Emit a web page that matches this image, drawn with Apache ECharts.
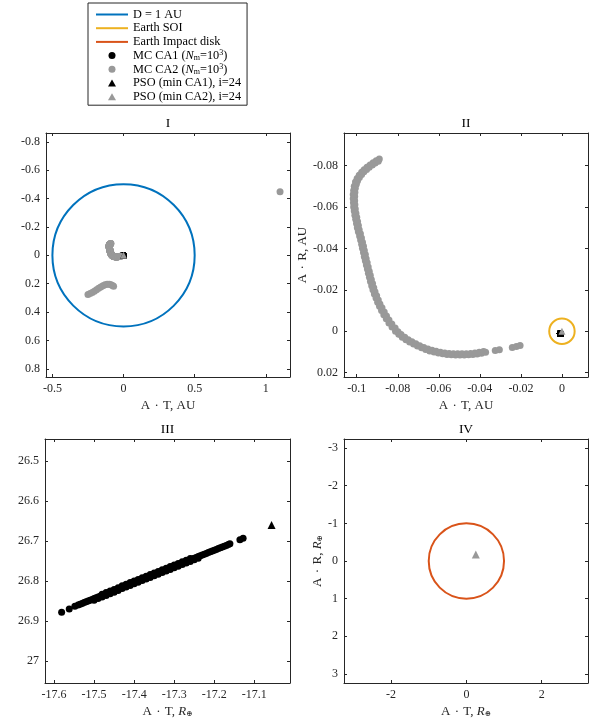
<!DOCTYPE html>
<html>
<head>
<meta charset="utf-8">
<script src="https://cdn.jsdelivr.net/npm/echarts@6/dist/echarts.min.js"></script>
<style>
  html, body { margin: 0; padding: 0; background: #fff; }
  #chart { width: 591px; height: 721px; }
</style>
</head>
<body>
<div id="chart"></div>
<script>
// Earth radius expressed in astronomical units
const R_EARTH_AU = 4.2587e-5;

// MC CA2 close-approach samples, B-plane coordinates (A·T, A·R) in AU
const mcCA2_AU = [
  // outer edge of the main arc
  [-0.0890,-0.0831],[-0.0905,-0.0823],[-0.0920,-0.0813],[-0.0935,-0.0803],[-0.0950,-0.0792],
  [-0.0964,-0.0780],[-0.0976,-0.0768],[-0.0988,-0.0753],[-0.0998,-0.0737],[-0.1006,-0.0720],
  [-0.1012,-0.0700],[-0.1015,-0.0680],[-0.1017,-0.0660],[-0.1017,-0.0640],[-0.1016,-0.0620],
  [-0.1015,-0.0600],[-0.1012,-0.0580],[-0.1009,-0.0560],[-0.1005,-0.0540],[-0.1001,-0.0520],
  [-0.0997,-0.0500],[-0.0992,-0.0480],[-0.0986,-0.0460],[-0.0981,-0.0440],[-0.0976,-0.0420],
  [-0.0972,-0.0400],[-0.0967,-0.0380],[-0.0963,-0.0360],[-0.0958,-0.0340],[-0.0953,-0.0320],
  [-0.0948,-0.0300],[-0.0943,-0.0280],[-0.0938,-0.0260],[-0.0933,-0.0240],[-0.0927,-0.0220],
  [-0.0921,-0.0200],[-0.0914,-0.0180],[-0.0906,-0.0160],[-0.0898,-0.0140],[-0.0889,-0.0120],
  [-0.0879,-0.0100],[-0.0868,-0.0080],[-0.0856,-0.0060],[-0.0843,-0.0040],[-0.0828,-0.0020],
  [-0.0811,0.0000],[-0.0795,0.0015],[-0.0778,0.0029],[-0.0760,0.0041],[-0.0742,0.0052],
  [-0.0723,0.0062],[-0.0704,0.0071],[-0.0684,0.0080],[-0.0664,0.0088],[-0.0644,0.0095],
  [-0.0623,0.0100],[-0.0602,0.0105],[-0.0581,0.0109],[-0.0560,0.0112],[-0.0539,0.0114],
  [-0.0518,0.0115],[-0.0497,0.0115],[-0.0476,0.0115],[-0.0455,0.0114],[-0.0434,0.0112],
  [-0.0413,0.0110],[-0.0392,0.0106],[-0.0372,0.0102],
  // inner edge of the main arc
  [-0.0895,-0.0821],[-0.0910,-0.0812],[-0.0924,-0.0802],[-0.0939,-0.0792],[-0.0952,-0.0781],
  [-0.0965,-0.0770],[-0.0976,-0.0757],[-0.0987,-0.0742],[-0.0996,-0.0727],[-0.1002,-0.0709],
  [-0.1007,-0.0690],[-0.1009,-0.0670],[-0.1010,-0.0650],[-0.1010,-0.0630],[-0.1009,-0.0610],
  [-0.1007,-0.0590],[-0.1004,-0.0570],[-0.1000,-0.0550],[-0.0996,-0.0530],[-0.0992,-0.0510],
  [-0.0988,-0.0490],[-0.0982,-0.0470],[-0.0977,-0.0450],[-0.0972,-0.0430],[-0.0967,-0.0410],
  [-0.0963,-0.0390],[-0.0958,-0.0370],[-0.0954,-0.0350],[-0.0949,-0.0330],[-0.0944,-0.0310],
  [-0.0939,-0.0290],[-0.0934,-0.0270],[-0.0929,-0.0250],[-0.0923,-0.0230],[-0.0917,-0.0210],
  [-0.0911,-0.0191],[-0.0903,-0.0171],[-0.0895,-0.0151],[-0.0887,-0.0132],[-0.0877,-0.0113],
  [-0.0866,-0.0093],[-0.0855,-0.0074],[-0.0843,-0.0054],[-0.0829,-0.0035],[-0.0813,-0.0016],
  [-0.0799,0.0002],[-0.0784,0.0016],[-0.0766,0.0029],[-0.0749,0.0041],[-0.0731,0.0051],
  [-0.0712,0.0061],[-0.0693,0.0070],[-0.0673,0.0078],[-0.0653,0.0086],[-0.0633,0.0092],
  [-0.0613,0.0097],[-0.0592,0.0101],[-0.0571,0.0105],[-0.0550,0.0107],[-0.0529,0.0109],
  [-0.0508,0.0109],[-0.0487,0.0109],[-0.0466,0.0109],[-0.0445,0.0107],[-0.0424,0.0105],
  [-0.0403,0.0102],[-0.0382,0.0098],
  // scattered tail toward the Earth
  [-0.0325,0.0093],[-0.0305,0.0090],[-0.0242,0.0079],[-0.0222,0.0074],[-0.0204,0.0069],
  // second branch
  [-0.250,0.277],[-0.235,0.270],[-0.220,0.262],[-0.205,0.253],[-0.190,0.243],
  [-0.175,0.233],[-0.160,0.224],[-0.145,0.215],[-0.130,0.208],[-0.115,0.204],
  [-0.100,0.204],[-0.088,0.208],[-0.078,0.213],[-0.070,0.218],
  // far outlier
  [1.100,-0.447]
];

// MC CA1 close-approach samples, B-plane coordinates in Earth radii
const mcCA1_RE = [
  [-17.581,26.878],[-17.562,26.870],
  [-17.548,26.863],[-17.540,26.860],[-17.530,26.856],[-17.520,26.852],[-17.510,26.848],
  [-17.500,26.844],[-17.490,26.840],[-17.480,26.836],[-17.470,26.832],[-17.460,26.828],
  [-17.450,26.824],[-17.440,26.820],[-17.430,26.815],[-17.420,26.811],[-17.410,26.807],
  [-17.400,26.803],[-17.390,26.799],[-17.380,26.795],[-17.370,26.791],[-17.360,26.787],
  [-17.350,26.783],[-17.340,26.779],[-17.330,26.775],[-17.320,26.771],[-17.310,26.767],
  [-17.300,26.763],[-17.290,26.759],[-17.280,26.755],[-17.270,26.751],[-17.260,26.747],
  [-17.250,26.743],[-17.240,26.739],[-17.230,26.735],[-17.220,26.731],[-17.210,26.727],
  [-17.200,26.723],[-17.190,26.719],[-17.180,26.715],[-17.170,26.711],[-17.161,26.707],
  [-17.535,26.858],[-17.525,26.854],[-17.515,26.850],[-17.505,26.846],[-17.495,26.842],
  [-17.485,26.838],[-17.475,26.834],[-17.465,26.830],[-17.455,26.826],[-17.445,26.822],
  [-17.435,26.818],[-17.425,26.813],[-17.415,26.809],[-17.405,26.805],[-17.395,26.801],
  [-17.385,26.797],[-17.375,26.793],[-17.365,26.789],[-17.355,26.785],[-17.345,26.781],
  [-17.335,26.777],[-17.325,26.773],[-17.315,26.769],[-17.305,26.765],[-17.295,26.761],
  [-17.285,26.757],[-17.275,26.753],[-17.265,26.749],[-17.255,26.745],[-17.245,26.741],
  [-17.235,26.737],[-17.225,26.733],[-17.215,26.729],[-17.205,26.725],[-17.195,26.721],
  [-17.185,26.717],[-17.175,26.713],[-17.165,26.709],
  [-17.500,26.848],[-17.490,26.844],[-17.480,26.840],[-17.470,26.836],[-17.460,26.832],
  [-17.450,26.828],[-17.440,26.824],[-17.430,26.819],[-17.420,26.815],[-17.410,26.811],
  [-17.400,26.807],[-17.390,26.803],[-17.380,26.799],[-17.370,26.795],[-17.360,26.791],
  [-17.350,26.787],[-17.340,26.783],[-17.330,26.779],[-17.320,26.775],[-17.310,26.771],
  [-17.300,26.767],[-17.290,26.763],[-17.280,26.759],[-17.270,26.755],[-17.260,26.751],
  [-17.250,26.747],[-17.240,26.743],
  [-17.480,26.833],[-17.470,26.829],[-17.460,26.825],[-17.450,26.821],[-17.440,26.817],
  [-17.430,26.812],[-17.420,26.808],[-17.410,26.804],[-17.400,26.800],[-17.390,26.796],
  [-17.380,26.792],[-17.370,26.788],[-17.360,26.784],[-17.350,26.780],[-17.340,26.776],
  [-17.330,26.772],[-17.320,26.768],[-17.310,26.764],[-17.300,26.760],[-17.290,26.756],
  [-17.280,26.752],[-17.270,26.748],[-17.260,26.744],
  [-17.136,26.697],[-17.128,26.693]
];

// PSO optima, Earth radii
const psoCA1_RE = [[-17.057, 26.660]];
const psoCA2_RE = [[0.25, -0.17]];

// Reference circles: [centre T, centre R, radius]
const circleD_AU = [[0, 0, 0.5]];
const earthSOI_AU = [[0, 0, 0.0062]];
const impactDisk_RE = [[0, 0, 1]];

// Tick positions for each panel
const ticksIX = [-0.5, 0, 0.5, 1];
const ticksIY = [-0.8, -0.6, -0.4, -0.2, 0, 0.2, 0.4, 0.6, 0.8];
const ticksIIX = [-0.1, -0.08, -0.06, -0.04, -0.02, 0];
const ticksIIY = [-0.08, -0.06, -0.04, -0.02, 0, 0.02];
const ticksIIIX = [-17.6, -17.5, -17.4, -17.3, -17.2, -17.1];
const ticksIIIY = [26.5, 26.6, 26.7, 26.8, 26.9, 27];
const ticksIVX = [-2, 0, 2];
const ticksIVY = [-3, -2, -1, 0, 1, 2, 3];

const toAU = pts => pts.map(p => [p[0] * R_EARTH_AU, p[1] * R_EARTH_AU]);

const FONT = 'Liberation Serif';
const INK = '#262626';
const BLUE = '#0072BD', GOLD = '#EDB120', RED = '#D95319';
const GREY = '#999999', BLACK = '#000000';
const DOT = '\u2004\u00b7\u2004';

const fmt = v => String(Number(v.toFixed(4)));
const richMath = {
  it: { fontFamily: FONT, fontStyle: 'italic', fontSize: 13, color: INK },
  sub: { fontFamily: 'DejaVu Serif', fontSize: 7.5, color: INK, verticalAlign: 'bottom', padding: [5, 0, 0, 0] }
};

const grids = [
  { left: 46, top: 133, width: 244, height: 244 },
  { left: 344, top: 133, width: 244, height: 244 },
  { left: 45, top: 439, width: 245, height: 244 },
  { left: 344, top: 439, width: 244, height: 244 }
];

function axisPair(dim, g, min, max, ticks, opts) {
  const base = {
    type: 'value', gridIndex: g, min: min, max: max,
    inverse: dim === 'y',
    axisLine: { show: true, onZero: false, lineStyle: { color: INK, width: 1 } },
    axisTick: { show: true, inside: true, length: 3, customValues: ticks, lineStyle: { color: INK } },
    splitLine: { show: false },
    axisPointer: { show: false }
  };
  const main = Object.assign({}, base, {
    position: dim === 'x' ? 'bottom' : 'left',
    axisLabel: { show: true, customValues: ticks, formatter: fmt, fontFamily: FONT, fontSize: 12, color: INK, margin: 6 },
    name: opts.name || '', nameLocation: 'middle', nameGap: opts.gap || 20,
    nameTextStyle: { fontFamily: FONT, fontSize: 13, color: INK, rich: richMath }
  });
  const twin = Object.assign({}, base, {
    position: dim === 'x' ? 'top' : 'right',
    axisLabel: { show: false },
    name: opts.title || '', nameLocation: 'middle', nameGap: 3,
    nameTextStyle: { fontFamily: FONT, fontSize: 13.5, color: '#000' }
  });
  return [main, twin];
}

const xAxes = [].concat(
  axisPair('x', 0, -0.545, 1.17, ticksIX, { name: 'A' + DOT + 'T, AU', gap: 22, title: 'I' }),
  axisPair('x', 1, -0.1062, 0.0127, ticksIIX, { name: 'A' + DOT + 'T, AU', gap: 22, title: 'II' }),
  axisPair('x', 2, -17.6225, -17.011, ticksIIIX, { name: 'A' + DOT + 'T, {it|R}{sub|⊕}', gap: 22, title: 'III' }),
  axisPair('x', 3, -3.25, 3.23, ticksIVX, { name: 'A' + DOT + 'T, {it|R}{sub|⊕}', gap: 22, title: 'IV' })
);
const yAxes = [].concat(
  axisPair('y', 0, -0.862, 0.858, ticksIY, {}),
  axisPair('y', 1, -0.0957, 0.0221, ticksIIY, { name: 'A' + DOT + 'R, AU', gap: 35 }),
  axisPair('y', 2, 26.445, 27.055, ticksIIIY, {}),
  axisPair('y', 3, -3.24, 3.24, ticksIVY, { name: 'A' + DOT + 'R, {it|R}{sub|⊕}', gap: 20 })
);

function circleSeries(name, g, data, color) {
  return {
    type: 'custom', name: name, xAxisIndex: 2 * g, yAxisIndex: 2 * g,
    data: data, encode: { x: 0, y: 1 }, clip: true, silent: true,
    itemStyle: { color: color },
    renderItem: function (params, api) {
      const c = api.coord([api.value(0), api.value(1)]);
      const r = api.size([api.value(2), 0])[0];
      return {
        type: 'circle',
        shape: { cx: c[0], cy: c[1], r: r },
        style: { fill: 'none', stroke: color, lineWidth: 2 }
      };
    }
  };
}

function scatter(name, g, data, color, symbol, size) {
  return {
    type: 'scatter', name: name, xAxisIndex: 2 * g, yAxisIndex: 2 * g,
    data: data, symbol: symbol, symbolSize: size, clip: true, silent: true,
    itemStyle: { color: color, opacity: 1 }
  };
}

const N_MC1 = 'MC CA1', N_MC2 = 'MC CA2';
const N_PSO1 = 'PSO (min CA1), i=24', N_PSO2 = 'PSO (min CA2), i=24';

const series = [
  // Panel I
  circleSeries('D = 1 AU', 0, circleD_AU, BLUE),
  scatter(N_MC1, 0, toAU(mcCA1_RE), BLACK, 'circle', 7),
  scatter(N_MC2, 0, mcCA2_AU, GREY, 'circle', 7),
  scatter(N_PSO1, 0, toAU(psoCA1_RE), BLACK, 'triangle', 7),
  scatter(N_PSO2, 0, toAU(psoCA2_RE), GREY, 'triangle', 7),
  // Panel II
  circleSeries('Earth SOI', 1, earthSOI_AU, GOLD),
  scatter(N_MC1, 1, toAU(mcCA1_RE), BLACK, 'circle', 7),
  scatter(N_MC2, 1, mcCA2_AU, GREY, 'circle', 7),
  scatter(N_PSO1, 1, toAU(psoCA1_RE), BLACK, 'triangle', 7),
  scatter(N_PSO2, 1, toAU(psoCA2_RE), GREY, 'triangle', 7),
  // Panel III
  scatter(N_MC1, 2, mcCA1_RE, BLACK, 'circle', 7),
  scatter(N_PSO1, 2, psoCA1_RE, BLACK, 'triangle', 8),
  // Panel IV
  circleSeries('Earth Impact disk', 3, impactDisk_RE, RED),
  scatter(N_PSO2, 3, psoCA2_RE, GREY, 'triangle', 8)
];

const lineIcon = 'path://M0,0H32V2H0Z';
const triIcon = 'path://M4,0L8,7L0,7Z';
const legendText = {
  'D = 1 AU': 'D = 1 AU',
  'Earth SOI': 'Earth SOI',
  'Earth Impact disk': 'Earth Impact disk',
  'MC CA1': 'MC CA1 ({it|N}{sub|m}=10{sup|3})',
  'MC CA2': 'MC CA2 ({it|N}{sub|m}=10{sup|3})',
  'PSO (min CA1), i=24': 'PSO (min CA1), i=24',
  'PSO (min CA2), i=24': 'PSO (min CA2), i=24'
};

const option = {
  backgroundColor: '#ffffff',
  animation: false,
  grid: grids,
  xAxis: xAxes,
  yAxis: yAxes,
  legend: {
    orient: 'vertical', left: 88, top: 3,
    padding: [5, 6, 2, 8],
    itemWidth: 32, itemHeight: 7, itemGap: 0.7,
    selectedMode: false,
    backgroundColor: '#fff', borderColor: INK, borderWidth: 1, borderRadius: 0,
    textStyle: {
      fontFamily: FONT, fontSize: 12.3, color: '#000', lineHeight: 13,
      rich: {
        it: { fontFamily: FONT, fontStyle: 'italic', fontSize: 12.3, lineHeight: 13 },
        sub: { fontFamily: FONT, fontSize: 8, lineHeight: 13, verticalAlign: 'bottom', padding: [4, 0, 0, 0] },
        sup: { fontFamily: FONT, fontSize: 8, lineHeight: 13, verticalAlign: 'top', padding: [0, 0, 4, 0] }
      }
    },
    formatter: name => legendText[name],
    data: [
      { name: 'D = 1 AU', icon: lineIcon },
      { name: 'Earth SOI', icon: lineIcon },
      { name: 'Earth Impact disk', icon: lineIcon },
      { name: N_MC1, icon: 'circle' },
      { name: N_MC2, icon: 'circle' },
      { name: N_PSO1, icon: triIcon },
      { name: N_PSO2, icon: triIcon }
    ]
  },
  series: series
};

const chart = echarts.init(document.getElementById('chart'), null, { renderer: 'canvas' });
chart.setOption(option);
</script>
</body>
</html>
